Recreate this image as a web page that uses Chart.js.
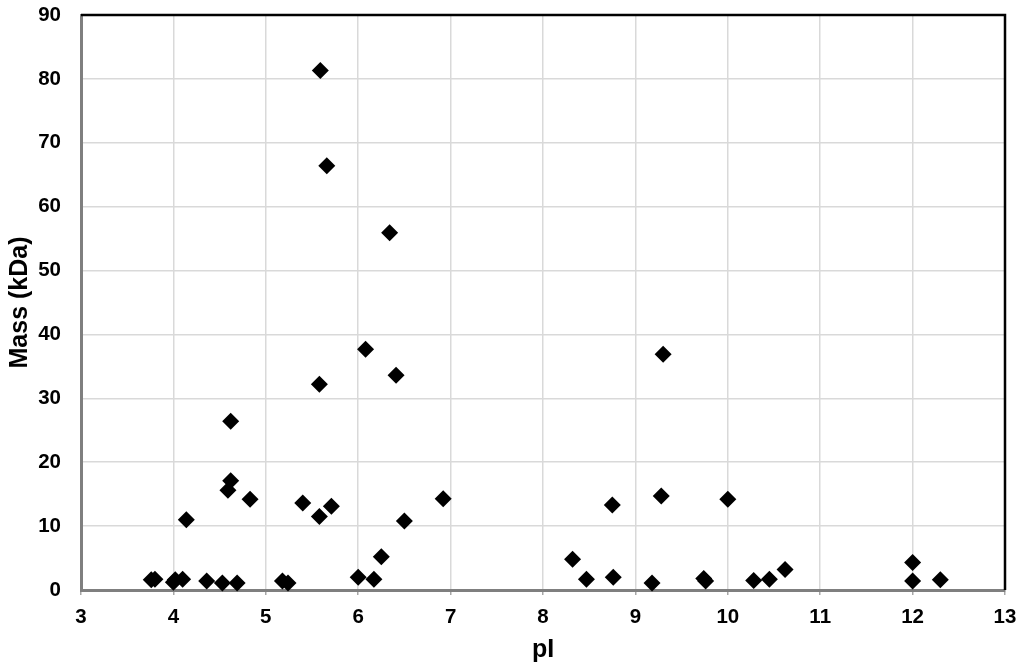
<!DOCTYPE html>
<html>
<head>
<meta charset="utf-8">
<title>Mass vs pI</title>
<script src="https://cdn.jsdelivr.net/npm/chart.js@4"></script>
<style>
  html, body { margin: 0; padding: 0; background: #fff; }
  #wrap { width: 1024px; height: 671px; }
</style>
</head>
<body>
<div id="wrap"><canvas id="massChart" width="1024" height="671"></canvas></div>
<script>
// ---- DATA ----
const pIValues = [
  3.76, 3.80, 4.00, 4.02, 4.10, 4.14, 4.36, 4.53, 4.59, 4.62,
  4.62, 4.69, 4.83, 5.18, 5.24, 5.40, 5.58, 5.58, 5.59, 5.66,
  5.71, 6.00, 6.08, 6.17, 6.25, 6.34, 6.41, 6.50, 6.92, 8.32,
  8.47, 8.75, 8.76, 9.18, 9.28, 9.30, 9.74, 9.76, 10.00, 10.28,
  10.45, 10.62, 12.00, 12.00, 12.30
];
const massValues = [
  1.6, 1.7, 1.2, 1.6, 1.7, 11.0, 1.4, 1.1, 15.6, 17.1,
  26.4, 1.1, 14.2, 1.4, 1.1, 13.6, 11.5, 32.2, 81.3, 66.4,
  13.1, 2.0, 37.7, 1.7, 5.2, 55.9, 33.6, 10.8, 14.3, 4.8,
  1.7, 13.3, 2.0, 1.1, 14.7, 36.9, 1.8, 1.4, 14.2, 1.5,
  1.7, 3.2, 4.3, 1.4, 1.6
];
const xTicks = [3, 4, 5, 6, 7, 8, 9, 10, 11, 12, 13];
const yTicks = [0, 10, 20, 30, 40, 50, 60, 70, 80, 90];
const xTitle = 'pI';
const yTitle = 'Mass (kDa)';

const points = pIValues.map((x, i) => ({ x, y: massValues[i] }));

// ---- FRAME (top + right black edges of the plot box) ----
const frameBorder = {
  id: 'frameBorder',
  afterDraw(chart) {
    const { ctx, chartArea: a } = chart;
    ctx.save();
    ctx.strokeStyle = '#000';
    ctx.lineWidth = 2.5;
    ctx.beginPath();
    ctx.moveTo(a.left, a.top);
    ctx.lineTo(a.right, a.top);
    ctx.lineTo(a.right, a.bottom);
    ctx.stroke();
    ctx.restore();
  }
};

const tickFont = { family: '"Liberation Sans", Arial, sans-serif', size: 20.5, weight: 'bold' };
const titleFont = { family: '"Liberation Sans", Arial, sans-serif', size: 25, weight: 'bold' };

new Chart(document.getElementById('massChart'), {
  type: 'scatter',
  data: {
    datasets: [{
      data: points,
      backgroundColor: '#000',
      borderColor: '#000',
      borderWidth: 0,
      pointStyle: 'rectRot',
      pointRadius: 8.5,
      pointHoverRadius: 8.5,
      clip: false
    }]
  },
  options: {
    responsive: false,
    animation: false,
    devicePixelRatio: 1,
    layout: { autoPadding: false, padding: { left: 0, top: 15, right: 19, bottom: 0 } },
    plugins: { legend: { display: false }, tooltip: { enabled: false } },
    scales: {
      x: {
        type: 'linear',
        min: 3,
        max: 13,
        afterFit: s => { s.height = 81; s.paddingLeft = 0; s.paddingRight = 0; },
        afterBuildTicks: s => { s.ticks = xTicks.map(v => ({ value: v })); },
        grid: { color: '#d9d9d9', lineWidth: 1.5, drawTicks: true, tickLength: 5, tickColor: '#a6a6a6' },
        border: { display: true, color: '#7f7f7f', width: 3 },
        ticks: { color: '#000', font: tickFont, padding: 10, maxRotation: 0 },
        title: { display: true, text: xTitle, color: '#000', font: titleFont, padding: { top: 0, bottom: 6 } }
      },
      y: {
        type: 'linear',
        min: 0,
        max: 90,
        afterFit: s => { s.width = 81; s.paddingTop = 0; s.paddingBottom = 0; },
        afterBuildTicks: s => { s.ticks = yTicks.map(v => ({ value: v })); },
        grid: { color: '#d9d9d9', lineWidth: 1.5, drawTicks: false },
        border: { display: true, color: '#7f7f7f', width: 3 },
        ticks: { color: '#000', font: tickFont, padding: 20 },
        title: { display: true, text: yTitle, color: '#000', font: titleFont, padding: { top: 5, bottom: 0 } }
      }
    }
  },
  plugins: [frameBorder]
});
</script>
</body>
</html>
